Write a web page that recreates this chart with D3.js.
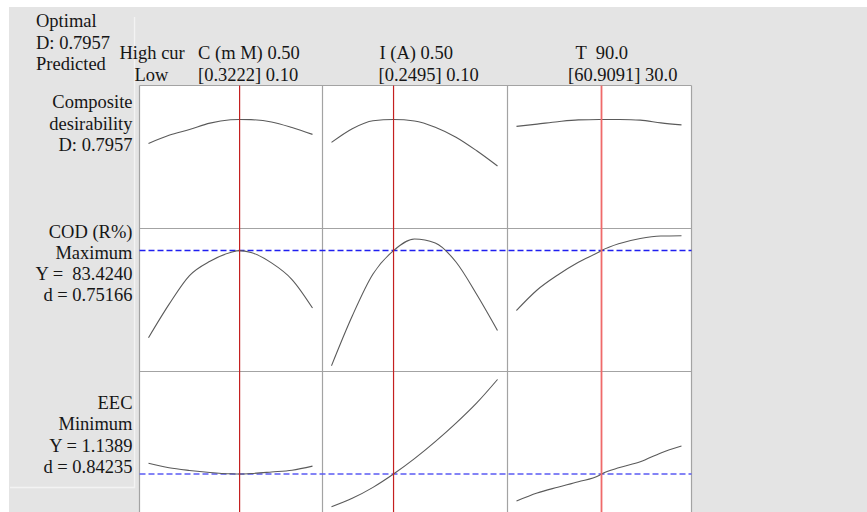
<!DOCTYPE html>
<html>
<head>
<meta charset="utf-8">
<script src="https://cdn.jsdelivr.net/npm/d3@7"></script>
<style>
  html, body { margin: 0; padding: 0; background: #ffffff; }
  svg text { font-family: "Liberation Serif", "Times New Roman", serif; font-size: 18.5px; fill: #161616; white-space: pre; }
</style>
</head>
<body>
<svg id="chart" width="867" height="512"></svg>
<script>
// Optimization plot: three factors (columns) x composite desirability and two responses (rows)

// Factors
const factorNames = ["C (m M)", "I (A)", "T"];
const factorHigh = ["0.50", "0.50", "90.0"];
const factorLow = ["0.10", "0.10", "30.0"];
const factorLowValue = [0.10, 0.10, 30.0];
const factorHighValue = [0.50, 0.50, 90.0];
const optimum = [0.3222, 0.2495, 60.9091];
const optimumLabel = ["[0.3222]", "[0.2495]", "[60.9091]"];

// Factor settings at which the responses were evaluated
const gridC = [0.10, 0.15, 0.20, 0.25, 0.30, 0.3222, 0.35, 0.40, 0.45, 0.50];
const gridI = [0.10, 0.15, 0.20, 0.2495, 0.30, 0.35, 0.40, 0.45, 0.50];
const gridT = [30, 37.5, 45, 52.5, 60, 60.9091, 67.5, 75, 82.5, 90];

// Composite desirability D along each factor
const compositeC = [0.607, 0.671, 0.717, 0.767, 0.793, 0.7957, 0.794, 0.776, 0.732, 0.678];
const compositeI = [0.615, 0.723, 0.786, 0.7957, 0.784, 0.735, 0.656, 0.549, 0.429];
const compositeT = [0.741, 0.759, 0.778, 0.792, 0.795, 0.7957, 0.795, 0.790, 0.769, 0.753];

// COD removal (R%) along each factor
const codC = [54.90, 65.81, 75.27, 79.95, 82.80, 83.424, 82.80, 79.40, 73.96, 64.63];
const codI = [45.74, 62.01, 75.76, 83.424, 87.22, 85.91, 79.69, 69.05, 57.26];
const codT = [63.81, 70.52, 75.43, 79.59, 82.97, 83.424, 85.75, 87.39, 88.20, 88.30];

// EEC along each factor
const eecC = [1.251, 1.204, 1.176, 1.155, 1.141, 1.1389, 1.144, 1.160, 1.178, 1.221];
const eecI = [0.798, 0.886, 1.000, 1.1389, 1.299, 1.476, 1.669, 1.880, 2.124];
const eecT = [0.858, 0.941, 1.002, 1.059, 1.124, 1.1389, 1.206, 1.266, 1.359, 1.431];

// Row summaries
const compositeLabel = ["Composite", "desirability", "D: 0.7957"];
const codLabel = ["COD (R%)", "Maximum", "Y =  83.4240", "d = 0.75166"];
const eecLabel = ["EEC", "Minimum", "Y = 1.1389", "d = 0.84235"];
const codTarget = 83.4240;
const eecTarget = 1.1389;
const headerLabel = ["Optimal", "D: 0.7957", "Predicted"];

// ---------- layout ----------
const svg = d3.select("#chart");
const W = 867, H = 512;
const colEdges = [139.5, 322.5, 507.5, 691.5];
const rowEdges = [85.5, 228.5, 371.5, 514.5];

svg.append("rect").attr("x", 0).attr("y", 0).attr("width", W).attr("height", H).attr("fill", "#ffffff");
svg.append("rect").attr("x", 9).attr("y", 7).attr("width", W - 9).attr("height", H - 7).attr("fill", "#e4e4e4");

// light divider around the label panel
svg.append("path")
  .attr("d", "M134.5,17 V487.5 H10")
  .attr("fill", "none").attr("stroke", "#f3f3f3").attr("stroke-width", 1.3);

// white plotting region
svg.append("rect")
  .attr("x", colEdges[0]).attr("y", rowEdges[0])
  .attr("width", colEdges[3] - colEdges[0]).attr("height", rowEdges[3] - rowEdges[0])
  .attr("fill", "#ffffff");

const columns = [
  { grid: gridC, rows: [compositeC, codC, eecC] },
  { grid: gridI, rows: [compositeI, codI, eecI] },
  { grid: gridT, rows: [compositeT, codT, eecT] }
];

// x scale per factor
const xScales = columns.map((c, i) =>
  d3.scaleLinear().domain([factorLowValue[i], factorHighValue[i]])
    .range([colEdges[i] + 9, colEdges[i + 1] - 10]));

// y scale per row
const yScales = [
  d3.scaleLinear().domain([0, 1]).range([rowEdges[1] - 8, rowEdges[0] + 8]),
  d3.scaleLinear().domain([44, 90.5]).range([rowEdges[2] - 0.5, rowEdges[1] + 0.5]),
  d3.scaleLinear().domain([0.713, 2.203]).range([rowEdges[3] + 0.4, rowEdges[2] + 0.4])
];

// grid of panel borders
const gridG = svg.append("g").attr("stroke", "#a3a3a3").attr("stroke-width", 1.2);
colEdges.forEach(x => gridG.append("line").attr("x1", x).attr("x2", x).attr("y1", rowEdges[0]).attr("y2", rowEdges[3]));
rowEdges.forEach(y => gridG.append("line").attr("x1", colEdges[0]).attr("x2", colEdges[3]).attr("y1", y).attr("y2", y));

// target reference lines (dashed)
const targets = [
  { row: 1, value: codTarget, color: "#1f1ff0" },
  { row: 2, value: eecTarget, color: "#5b5bf4" }
];
targets.forEach(t => {
  svg.append("line")
    .attr("x1", colEdges[0]).attr("x2", colEdges[3])
    .attr("y1", yScales[t.row](t.value)).attr("y2", yScales[t.row](t.value))
    .attr("stroke", t.color).attr("stroke-width", 1.5).attr("stroke-dasharray", "6,3");
});

// response curves
const line = d3.line().curve(d3.curveMonotoneX);
columns.forEach((c, i) => {
  c.rows.forEach((vals, r) => {
    const pts = c.grid.map((g, k) => [xScales[i](g), yScales[r](vals[k])]);
    svg.append("path").attr("d", line(pts))
      .attr("fill", "none").attr("stroke", "#5a5a5a").attr("stroke-width", 1.1);
  });
});

// current optimal setting of each factor
const optColors = ["#c42020", "#c42020", "#ef6a6a"];
const optWidths = [1.2, 1.2, 1.8];
optimum.forEach((v, i) => {
  const x = xScales[i](v);
  svg.append("line").attr("x1", x).attr("x2", x).attr("y1", rowEdges[0]).attr("y2", rowEdges[3])
    .attr("stroke", optColors[i]).attr("stroke-width", optWidths[i]);
});

// ---------- text ----------
const txt = (x, y, s, anchor) =>
  svg.append("text").attr("x", x).attr("y", y).attr("text-anchor", anchor || "start").text(s);

headerLabel.forEach((s, k) => txt(36, 27 + k * 21.5, s));
txt(119.5, 59, "High cur");
txt(134.5, 80.5, "Low");

const headOffsetTop = [58.5, 57, 68];
const headOffsetBottom = [58.5, 56, 60.5];
factorNames.forEach((name, i) => {
  const sep = i === 2 ? "  " : " ";
  txt(colEdges[i] + headOffsetTop[i], 59, name + sep + factorHigh[i]);
  txt(colEdges[i] + headOffsetBottom[i], 80.5, optimumLabel[i] + " " + factorLow[i]);
});

const rowLabelBase = [108.3, 237.5, 409];
[compositeLabel, codLabel, eecLabel].forEach((lines, r) => {
  lines.forEach((s, k) => txt(132.5, rowLabelBase[r] + k * 21.3, s, "end"));
});
</script>
</body>
</html>
